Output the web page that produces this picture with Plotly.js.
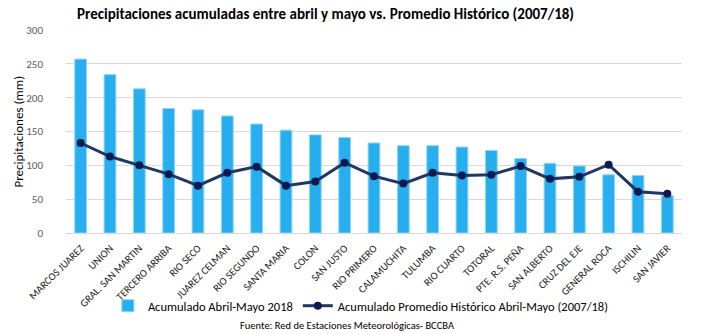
<!DOCTYPE html>
<html><head><meta charset="utf-8">
<script src="https://cdn.plot.ly/plotly-3.0.1.min.js"></script>
<style>html,body{margin:0;padding:0;background:#fff}#chart{width:707px;height:334px}</style>
</head><body><div id="chart"></div>
<script>
const stations = ["MARCOS JUAREZ","UNION","GRAL. SAN MARTIN","TERCERO ARRIBA","RIO SECO","JUAREZ CELMAN","RIO SEGUNDO","SANTA MARIA","COLON","SAN JUSTO","RIO PRIMERO","CALAMUCHITA","TULUMBA","RIO CUARTO","TOTORAL","PTE. R.S. PEÑA","SAN ALBERTO","CRUZ DEL EJE","GENERAL ROCA","ISCHILIN","SAN JAVIER"];
const acum2018 = [257,234,213,184,182,173,161,152,145,141,133,129,129,127,122,110,103,99,86,85,55];
const promedio = [133,113,100,87,70,89,98,70,76,104,84,73,89,85,86,99,80,83,101,61,58];
const yTicks = [0,50,100,150,200,250,300];

const FONT = "Carlito, 'Liberation Sans Narrow', 'Open Sans', sans-serif";

const data = [
  {type:"bar", x:stations, y:acum2018, name:"Acumulado Abril-Mayo 2018",
   marker:{color:"#27AEEF", line:{color:"#8DD3F5", width:1}}, width:0.4},
  {type:"scatter", mode:"lines+markers", x:stations, y:promedio,
   name:"Acumulado Promedio Histórico Abril-Mayo (2007/18)",
   line:{color:"#1F3762", width:3}, marker:{color:"#0B1B4F", size:8}}
];

const layout = {
  width:707, height:334,
  margin:{l:66, r:25, t:30, b:101, autoexpand:false},
  paper_bgcolor:"#fff", plot_bgcolor:"#fff",
  font:{family:FONT, color:"#000", size:11},
  bargap:0.6,
  xaxis:{type:"category", range:[-0.5, stations.length-0.5], tickangle:-45, tickfont:{size:10.5, color:"#1a1a1a"}, showgrid:false,
    showline:true, linecolor:"#D9D9D9", linewidth:1, ticks:"", ticklabelstandoff:4, automargin:false},
  yaxis:{range:[0,300], tickvals:yTicks, ticktext:yTicks.map(String), showgrid:true, gridcolor:"#D9D9D9",
    gridwidth:1, zeroline:false, tickfont:{size:11, color:"#595959"}, ticklabelstandoff:22, automargin:false},
  showlegend:true,
  legend:{orientation:"h", x:0.068, xanchor:"left", y:-0.36, yanchor:"middle", bgcolor:"rgba(0,0,0,0)",
    font:{size:12.5, color:"#000"}, tracegroupgap:0},
  annotations:[
    {text:"<b>Precipitaciones acumuladas entre abril y mayo vs. Promedio Histórico (2007/18)</b>",
     xref:"paper", yref:"paper", x:0.0146, y:1.079, xanchor:"left", yanchor:"middle", showarrow:false,
     font:{size:15, color:"#000"}},
    {text:"Precipitaciones (mm)", xref:"paper", yref:"paper", x:-0.0763, y:0.5, xanchor:"center", yanchor:"middle",
     textangle:-90, showarrow:false, font:{size:13, color:"#000"}},
    {text:"Fuente: Red de Estaciones Meteorológicas- BCCBA", xref:"paper", yref:"paper",
     x:0.457, y:-0.458, xanchor:"center", yanchor:"middle", showarrow:false, font:{size:10.5, color:"#000"}}]
};
Plotly.newPlot("chart", data, layout, {displayModeBar:false, staticPlot:true});
</script></body></html>
